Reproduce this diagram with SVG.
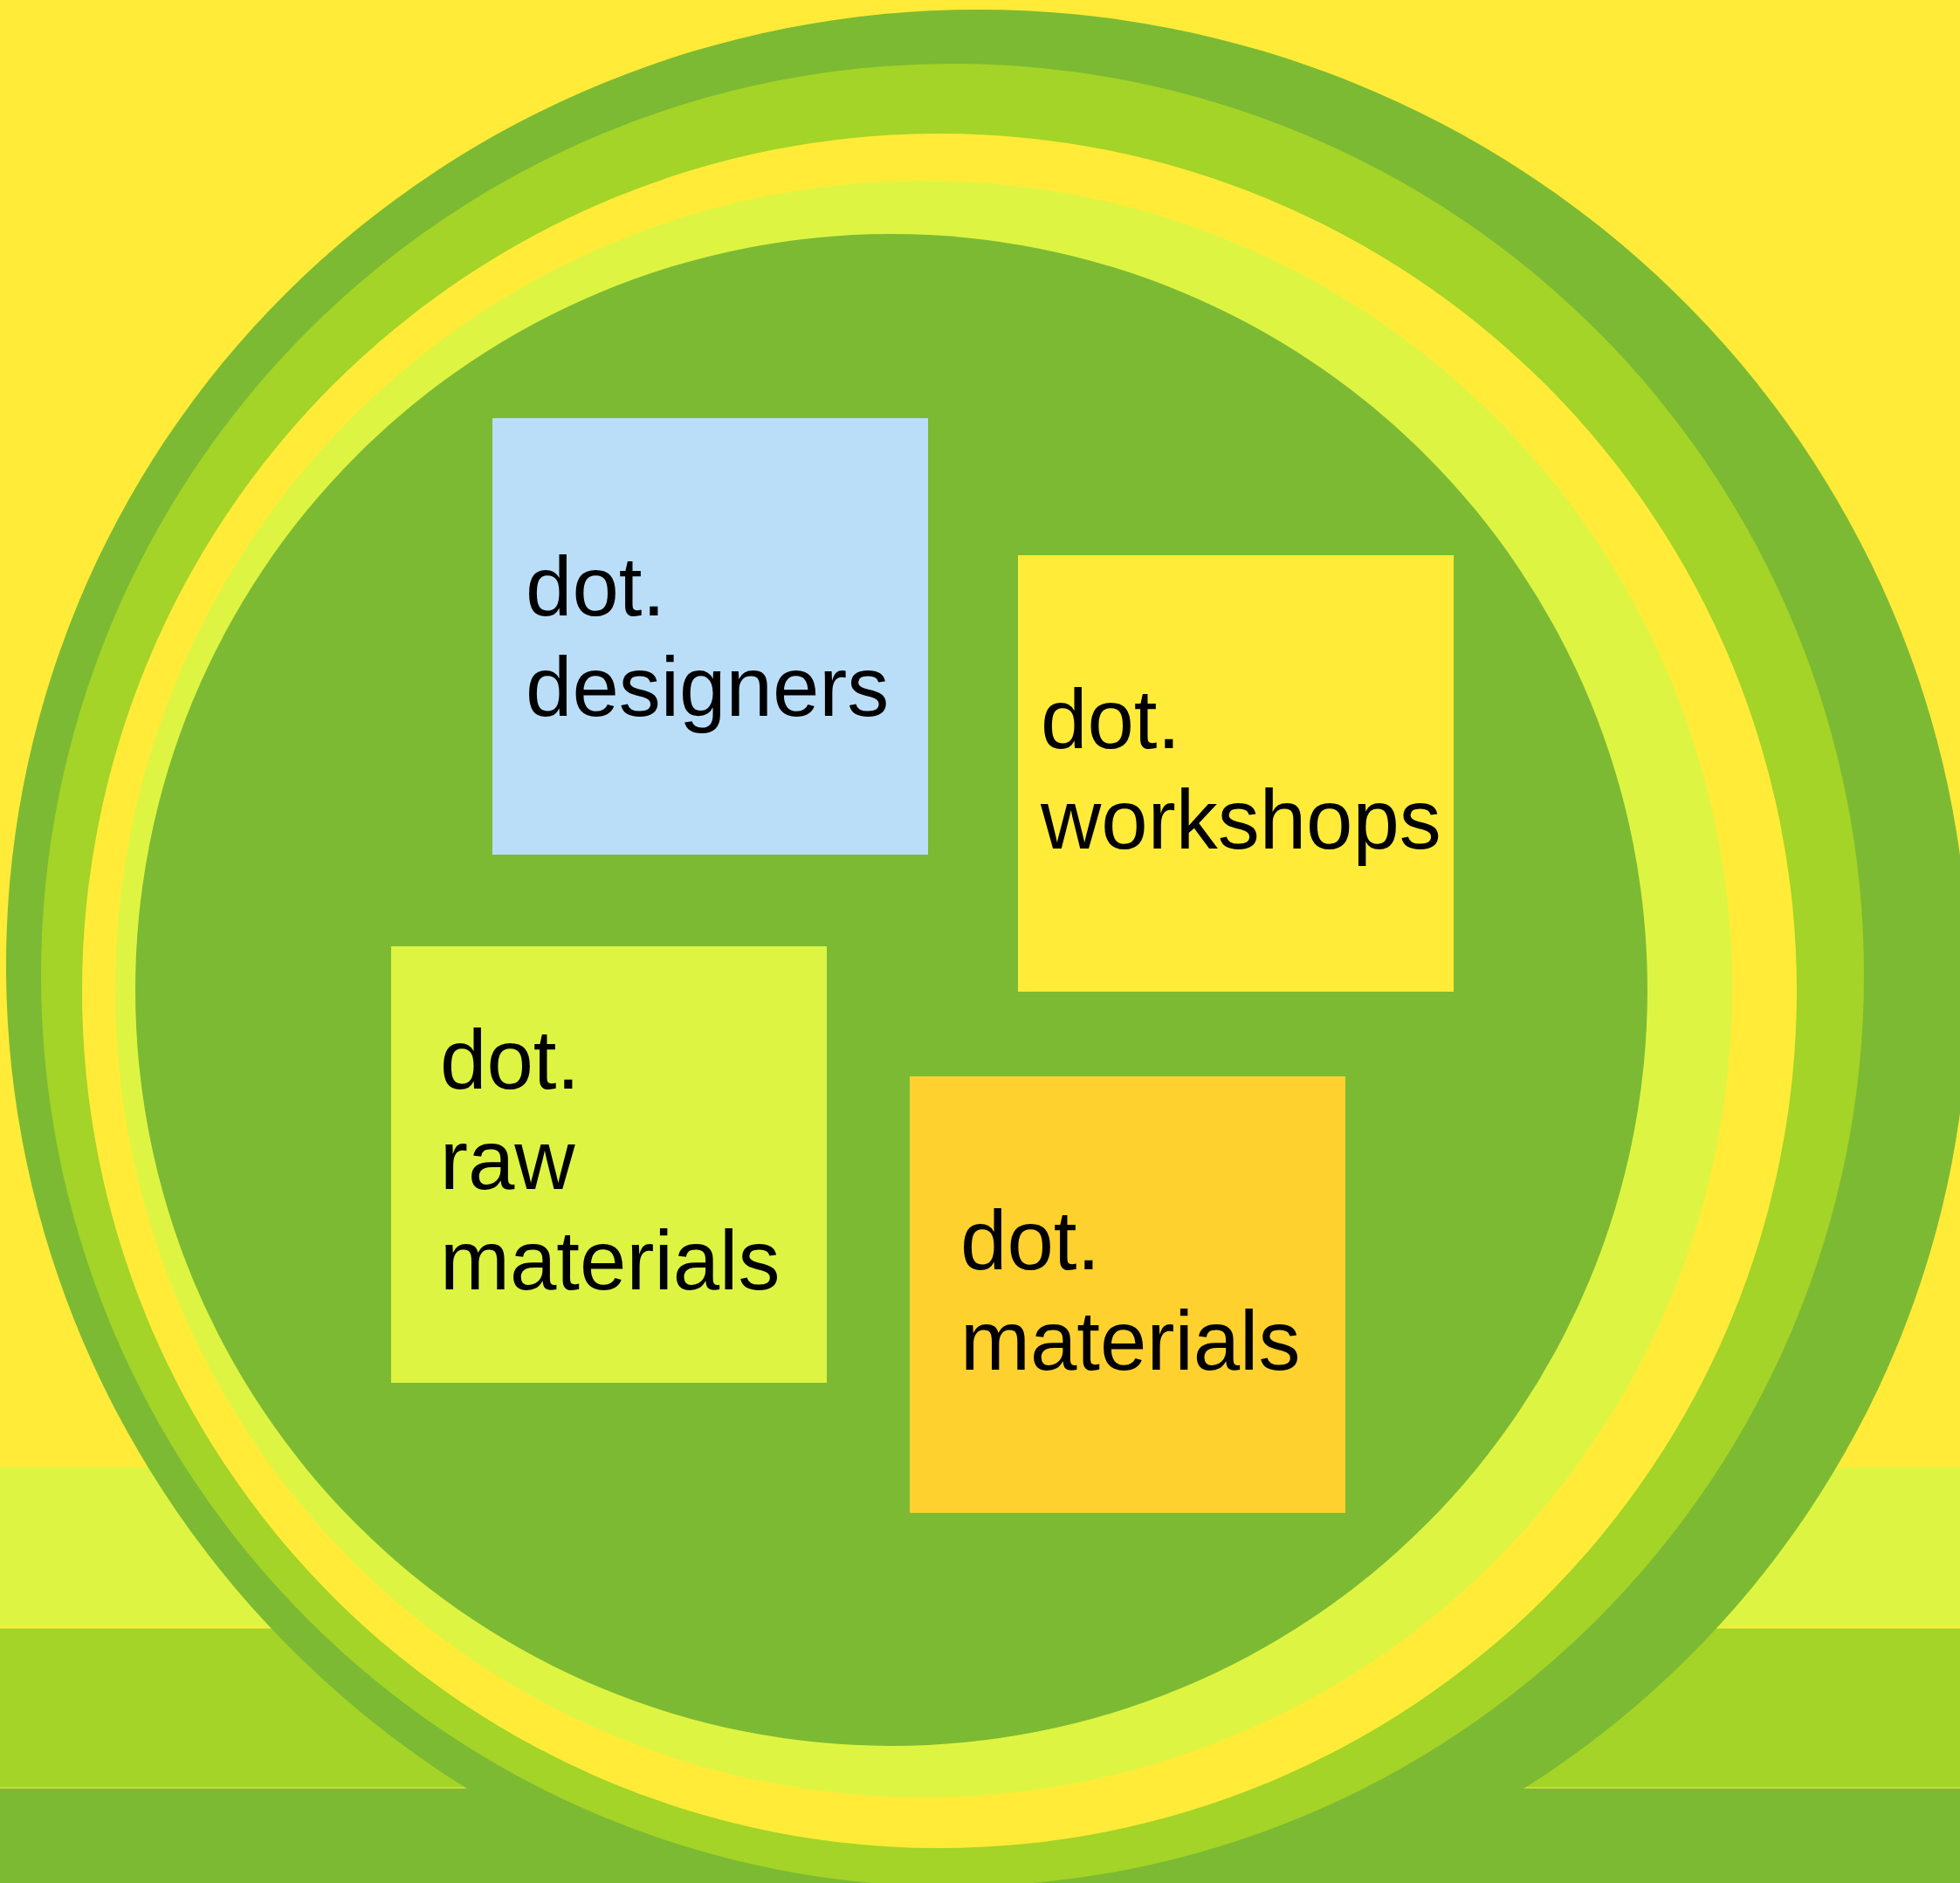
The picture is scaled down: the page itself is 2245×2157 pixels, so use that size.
<svg xmlns="http://www.w3.org/2000/svg" width="2245" height="2157" viewBox="0 0 2245 2157">
  <style>
    .lbl { font-family: "Liberation Sans", Arial, Helvetica, sans-serif; font-size: 96px; fill: #000000; }
    .c-dark { fill: #7DBA33; }
    .c-bright { fill: #A3D427; }
    .c-light { fill: #DDF542; }
    .c-yellow { fill: #FFEB38; }
  </style>
  <g id="background">
    <rect x="0" y="0" width="2245" height="2157" class="c-yellow"/>
    <rect x="0" y="1681" width="2245" height="182.5" class="c-light"/>
    <rect x="0" y="1865.5" width="2245" height="182" class="c-bright"/>
    <rect x="0" y="2048.5" width="2245" height="108.5" class="c-dark"/>
  </g>
  <g id="rings">
    <ellipse cx="0" cy="0" rx="1124" ry="1106" class="c-dark" transform="translate(1131,1117) skewX(0.56)"/>
    <circle cx="1091" cy="1117" r="1044" class="c-bright"/>
    <circle cx="1076" cy="1135" r="982" class="c-yellow"/>
    <circle cx="1058" cy="1133" r="926" class="c-light"/>
    <circle cx="1021" cy="1134" r="866" class="c-dark"/>
  </g>
  <g id="connectors"></g>
  <g id="node-designers">
    <rect x="564" y="479" width="499" height="500" fill="#BBDEF8"/>
    <text class="lbl" x="602" y="705">dot.</text>
    <text class="lbl" x="602" y="820">designers</text>
  </g>
  <g id="node-workshops">
    <rect x="1166" y="636" width="499" height="500" fill="#FFEB38"/>
    <text class="lbl" x="1192" y="857">dot.</text>
    <text class="lbl" x="1192" y="972">workshops</text>
  </g>
  <g id="node-raw-materials">
    <rect x="448" y="1084" width="499" height="500" fill="#DDF542"/>
    <text class="lbl" x="504" y="1247">dot.</text>
    <text class="lbl" x="504" y="1362">raw</text>
    <text class="lbl" x="504" y="1477">materials</text>
  </g>
  <g id="node-materials">
    <rect x="1042" y="1233" width="499" height="500" fill="#FFD12F"/>
    <text class="lbl" x="1100" y="1454">dot.</text>
    <text class="lbl" x="1100" y="1569">materials</text>
  </g>
</svg>
